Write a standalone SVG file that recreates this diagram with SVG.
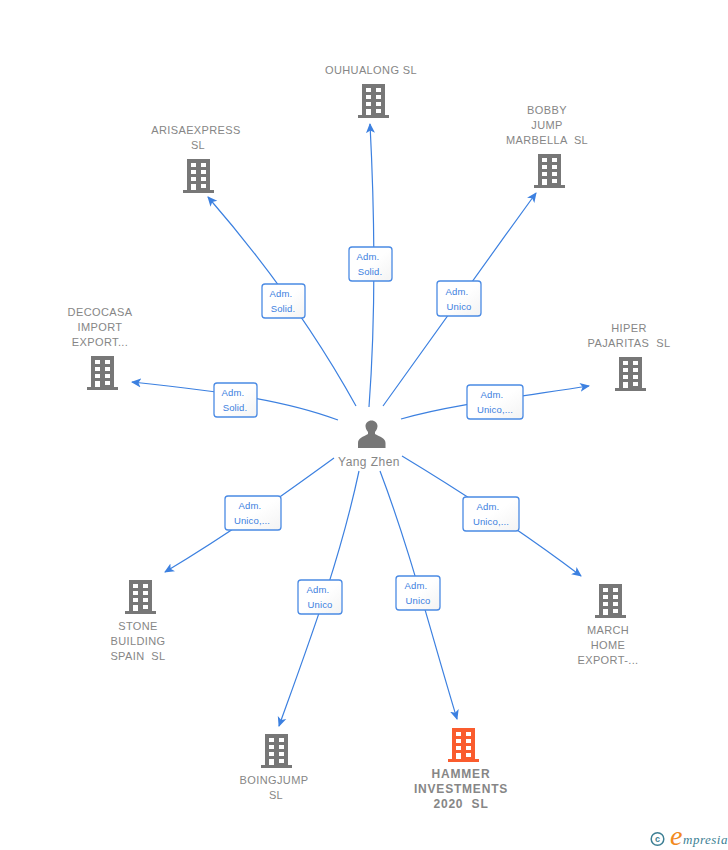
<svg xmlns="http://www.w3.org/2000/svg" width="728" height="850" viewBox="0 0 728 850">
<style>
text{font-family:"Liberation Sans",Arial,sans-serif;white-space:pre}
.n{font-size:11px;fill:#868686;text-anchor:middle;letter-spacing:.38px}
.y{font-size:12px;letter-spacing:.45px}
.h{font-size:12px;font-weight:bold;fill:#868686;text-anchor:middle;letter-spacing:.8px}
.c{fill:none;stroke:#3c80e0;stroke-width:1.2;marker-end:url(#a)}
.b{fill:url(#g);stroke:#4a8ae4;stroke-width:1.3}
.t{font-size:9.5px;fill:#3c80e0;text-anchor:middle;letter-spacing:.15px}
</style>
<defs>
<linearGradient id="g" x1="0" y1="0" x2="1" y2="1"><stop offset="0.5" stop-color="#fff"/><stop offset="1" stop-color="#f3f3f3"/></linearGradient>
<marker id="a" markerWidth="12" markerHeight="10" refX="9" refY="5" orient="auto" markerUnits="userSpaceOnUse"><path d="M0 0.500L10 5L0 9.500L2.500 5Z" fill="#3c80e0"/></marker>
<path id="bd" fill-rule="evenodd" d="M-11-17H12V14H16V17H-15V14H-11ZM-7-13V-9H-2V-13ZM3-13V-9H8V-13ZM-7-6V-2H-2V-6ZM3-6V-2H8V-6ZM-7 1V5H-2V1ZM3 1V5H8V1ZM-7 8V14H-2V8ZM3 8V12H8V8Z"/>
</defs>
<g id="connectors">
<path class="c" d="M369 407C374 340 376 240 370 124"/>
<path class="c" d="M356 406C325 350 280 280 208 197"/>
<path class="c" d="M383 406C420 355 480 270 536 193"/>
<path class="c" d="M338 420C290 402 230 392 132 382"/>
<path class="c" d="M401 419C450 405 510 398 589 386"/>
<path class="c" d="M334 458C290 490 235 530 165 572"/>
<path class="c" d="M402 456C450 485 520 530 581 576"/>
<path class="c" d="M359 471C340 560 310 640 279 726"/>
<path class="c" d="M380 471C410 550 430 630 457 719"/>
</g>
<g id="edge-labels">
<g><rect class="b" x="349" y="247" width="43" height="34" rx="3"/><text class="t" x="368" y="260">Adm.</text><text class="t" x="370" y="275">Solid.</text></g>
<g><rect class="b" x="262" y="284" width="43" height="34" rx="3"/><text class="t" x="281" y="297">Adm.</text><text class="t" x="283" y="312">Solid.</text></g>
<g><rect class="b" x="437" y="281" width="44" height="35" rx="3"/><text class="t" x="457" y="295">Adm.</text><text class="t" x="459" y="310">Unico</text></g>
<g><rect class="b" x="214" y="383" width="43" height="34" rx="3"/><text class="t" x="233" y="396">Adm.</text><text class="t" x="235" y="411">Solid.</text></g>
<g><rect class="b" x="467" y="385" width="56" height="34" rx="3"/><text class="t" x="492" y="398">Adm.</text><text class="t" x="495" y="413">Unico,...</text></g>
<g><rect class="b" x="225" y="496" width="56" height="34" rx="3"/><text class="t" x="250" y="509">Adm.</text><text class="t" x="252" y="524">Unico,...</text></g>
<g><rect class="b" x="463" y="497" width="56" height="34" rx="3"/><text class="t" x="488" y="510">Adm.</text><text class="t" x="491" y="525">Unico,...</text></g>
<g><rect class="b" x="298" y="580" width="44" height="34" rx="3"/><text class="t" x="318" y="593">Adm.</text><text class="t" x="320" y="608">Unico</text></g>
<g><rect class="b" x="396" y="576" width="44" height="34" rx="3"/><text class="t" x="416" y="589">Adm.</text><text class="t" x="418" y="604">Unico</text></g>
</g>
<g id="person"><path fill="#777" d="M358 448V443C358 438 363 437 368 434V432C366 430 365.500 427 365.500 426C365.500 423 368 420.500 371.500 420.500C375 420.500 377.500 423 377.500 426C377.500 427 377 430 375 432V434C380 437 385.500 438 385.500 443V448Z"/><text class="n y" x="369" y="466">Yang Zhen</text></g>
<g id="ouhualong"><use href="#bd" x="373" y="101" fill="#777"/><text class="n" x="371" y="74">OUHUALONG SL</text></g>
<g id="arisaexpress"><use href="#bd" x="198" y="176" fill="#777"/><text class="n" x="196" y="134">ARISAEXPRESS</text><text class="n" x="198" y="149">SL</text></g>
<g id="bobby"><use href="#bd" x="549" y="171" fill="#777"/><text class="n" x="547" y="114">BOBBY</text><text class="n" x="547" y="129">JUMP</text><text class="n" x="547" y="144">MARBELLA  SL</text></g>
<g id="decocasa"><use href="#bd" x="102" y="373" fill="#777"/><text class="n" x="100" y="316">DECOCASA</text><text class="n" x="100" y="331">IMPORT</text><text class="n" x="100" y="346">EXPORT...</text></g>
<g id="hiper"><use href="#bd" x="630" y="374" fill="#777"/><text class="n" x="629" y="332">HIPER</text><text class="n" x="629" y="347">PAJARITAS  SL</text></g>
<g id="stone"><use href="#bd" x="140" y="597" fill="#777"/><text class="n" x="138" y="630">STONE</text><text class="n" x="138" y="645">BUILDING</text><text class="n" x="138" y="660">SPAIN  SL</text></g>
<g id="march"><use href="#bd" x="610" y="601" fill="#777"/><text class="n" x="608" y="634">MARCH</text><text class="n" x="608" y="649">HOME</text><text class="n" x="608" y="664">EXPORT-...</text></g>
<g id="boingjump"><use href="#bd" x="276" y="751" fill="#777"/><text class="n" x="274" y="784">BOINGJUMP</text><text class="n" x="276" y="799">SL</text></g>
<g id="hammer"><use href="#bd" x="463" y="745" fill="#fa5c2e"/><text class="h" x="461" y="778">HAMMER</text><text class="h" x="461" y="793">INVESTMENTS</text><text class="h" x="461" y="808">2020  SL</text></g>
<g id="logo"><circle cx="657.500" cy="839" r="6.300" fill="none" stroke="#3d7f94" stroke-width="1.500"/><text x="657.500" y="842" style="font-size:9px;font-weight:bold;fill:#3d7f94;text-anchor:middle">c</text><text x="670" y="845" style="font-family:'Liberation Serif',serif;font-size:28px;font-style:italic;fill:#f28a1e">e</text><text x="683" y="844" style="font-family:'Liberation Serif',serif;font-size:13px;font-style:italic;fill:#3d7f94;letter-spacing:.5px">mpresia</text></g>
</svg>
